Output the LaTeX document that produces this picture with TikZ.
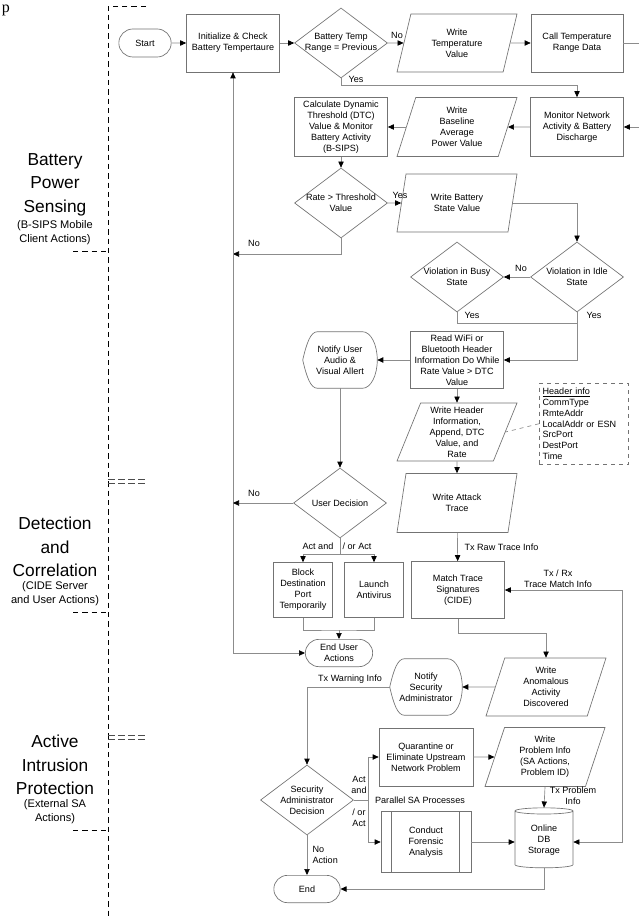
\documentclass[tikz,border=0pt]{standalone}
\usepackage{fontspec}
\setmainfont{Liberation Sans}
\newfontfamily\pserif{Liberation Serif}
\usetikzlibrary{shapes.geometric,shapes.misc,arrows.meta,positioning,calc}

% outline of the "display" shape round an invisible box
\newcommand\dispshape[1]{%
  \draw[shp] let \p1=(#1.west), \p2=(#1.north east), \p3=(#1.south east) in
    (\p1) .. controls (\x1+3pt,\y2-8pt) and (\x1+6pt,\y2) .. (\x1+11pt,\y2)
    -- (\x2-11pt,\y2) arc[start angle=90, end angle=-90, x radius=11pt, y radius={(\y2-\y3)/2}]
    -- (\x1+11pt,\y3) .. controls (\x1+6pt,\y3) and (\x1+3pt,\y3+8pt) .. (\p1) -- cycle;}

\begin{document}
\begin{tikzpicture}[x=0.75pt, y=-0.75pt,
    every node/.style={font=\fontsize{6.8}{8.2}\selectfont, align=center},
    shp/.style={draw=black!55, line width=0.5pt},
    proc/.style={shp, rectangle, fill=white, minimum width=69.75pt, minimum height=43.5pt, inner sep=1pt},
    term/.style={shp, rounded rectangle, fill=white, minimum width=52.5pt, minimum height=20.5pt, inner sep=1pt},
    dec/.style={shp, diamond, fill=white, aspect=1.33, minimum width=69.75pt, minimum height=52.5pt, inner sep=-3pt},
    iodata/.style={shp, trapezium, trapezium left angle=66, trapezium right angle=114, trapezium stretches body, fill=white, minimum width=90pt, minimum height=43.5pt, inner sep=1pt},
    dispbox/.style={minimum width=55.5pt, minimum height=42pt, inner sep=0pt},
    store/.style={shp, cylinder, shape border rotate=90, aspect=0.18, fill=white, minimum width=43.5pt, minimum height=45pt, inner sep=1pt},
    link/.style={draw=black!45, line width=0.5pt},
    arr/.style={link, -{Triangle[length=4.5pt, width=4pt, color=black]}},
    twoarr/.style={link, {Triangle[length=4.5pt, width=4pt, color=black]}-{Triangle[length=4.5pt, width=4pt, color=black]}},
    lane/.style={draw=black, line width=0.6pt, dash pattern=on 4pt off 3pt},
    lanemark/.style={draw=black!70, line width=0.5pt, dash pattern=on 5pt off 2.5pt},
    lanebig/.style={font=\fontsize{13}{17.5}\selectfont, inner sep=0pt},
    lanesmall/.style={font=\fontsize{8.3}{10.2}\selectfont, inner sep=0pt},
    lbl/.style={inner sep=1pt}
]
\useasboundingbox (0,0) rectangle (638,919);

% swim lanes
\node[font=\pserif\fontsize{12}{12}\selectfont, anchor=base, inner sep=0pt] (pfrag) at (6,13) {p};
\draw[lane] (146,6) -- (108,6) -- (108,925);
\draw[lane] (73,251) -- (108,251);
\draw[lane] (73,612) -- (108,612);
\draw[lane] (73,830) -- (108,830);
\draw[lanemark] (108,479) -- (145,479) (108,483) -- (145,483);
\draw[lanemark] (108,735) -- (145,735) (108,739) -- (145,739);
\node[lanesmall, anchor=south] (lane1sub) at (55,245) {(B-SIPS Mobile\\Client Actions)};
\node[lanebig, above=3.5pt of lane1sub] (lane1) {Battery\\Power\\Sensing};
\node[lanesmall, anchor=south] (lane2sub) at (55,606) {(CIDE Server\\and User Actions)};
\node[lanebig, above=3.5pt of lane2sub] (lane2) {Detection\\and\\Correlation};
\node[lanesmall, anchor=south] (lane3sub) at (55,824) {(External SA\\Actions)};
\node[lanebig, above=3.5pt of lane3sub] (lane3) {Active\\Intrusion\\Protection};

% battery power sensing
\node[term, minimum width=41.25pt, minimum height=21pt] (start) at (145,43) {Start};
\node[proc] (init) at (233,43) {Initialize \& Check\\Battery Tempertaure};
\node[dec] (tempok) at (341,43) {Battery Temp\\Range = Previous};
\node[iodata] (wtemp) at (457,43) {Write\\Temperature\\Value};
\node[proc, minimum width=69pt] (calltr) at (577,43) {Call Temperature\\Range Data};
\node[proc, minimum height=44.25pt] (monit) at (577,127) {Monitor Network\\Activity \& Battery\\Discharge};
\node[iodata, minimum height=44.25pt] (wbase) at (457,127) {Write\\Baseline\\Average\\Power Value};
\node[proc, minimum height=44.25pt] (calcdtc) at (341,127) {Calculate Dynamic\\Threshold (DTC)\\Value \& Monitor\\Battery Activity\\(B-SIPS)};
\node[dec] (rate) at (341,203) {Rate > Threshold\\Value};
\node[iodata] (wbatt) at (457,203) {Write Battery\\State Value};
\node[dec] (idle) at (577,277) {Violation in Idle\\State};
\node[dec] (busy) at (457,277) {Violation in Busy\\State};
\node[proc, minimum height=42.75pt] (readhdr) at (457,360) {Read WiFi or\\Bluetooth Header\\Information Do While\\Rate Value > DTC\\Value};
\node[dispbox] (notu) at (340,360) {Notify User\\Audio \&\\Visual Allert};
\dispshape{notu}

% detection and correlation
\node[iodata] (whdr) at (457,432) {Write Header\\Information,\\Append, DTC\\Value, and\\Rate};
\node[draw=black!55, dashed, line width=0.4pt, align=left, anchor=north west, text width=62pt, minimum height=60.75pt, inner sep=2.5pt] (hinfo) at (539,383)
  {\underline{Header info}\\CommType\\RmteAddr\\LocalAddr or ESN\\SrcPort\\DestPort\\Time};
\node[dec] (ud) at (340,503) {User Decision};
\node[proc, minimum width=44.25pt, minimum height=41.25pt] (blk) at (303,590) {Block\\Destination\\Port\\Temporarily};
\node[proc, minimum width=44.25pt, minimum height=41.25pt] (lav) at (374,590) {Launch\\Antivirus};
\node[term] (endu) at (339,653) {End User\\Actions};
\node[iodata, minimum height=44.25pt] (watk) at (457,503) {Write Attack\\Trace};
\node[proc, minimum height=42.75pt] (mts) at (458,590) {Match Trace\\Signatures\\(CIDE)};
\node[iodata] (wanom) at (546,687) {Write\\Anomalous\\Activity\\Discovered};
\node[dispbox, minimum width=54pt] (nsec) at (426,687) {Notify\\Security\\Administrator};
\dispshape{nsec}

% active intrusion protection
\node[dec] (sad) at (307,800) {Security\\Administrator\\Decision};
\node[proc, minimum width=70.5pt] (quar) at (426,757) {Quarantine or\\Eliminate Upstream\\Network Problem};
\node[iodata, minimum height=44.25pt] (wprob) at (545,757) {Write\\Problem Info\\(SA Actions,\\Problem ID)};
\node[proc, minimum width=67.5pt, minimum height=45.75pt] (fore) at (426,842) {Conduct\\Forensic\\Analysis};
\draw[shp] ($(fore.north west)+(11,0)$) -- ($(fore.south west)+(11,0)$)
           ($(fore.north east)+(-12,0)$) -- ($(fore.south east)+(-12,0)$);
\node[store] (db) at (544,840) {Online\\DB\\Storage};
\node[term, minimum width=51.75pt] (endn) at (307,889) {End};

% connectors
\coordinate (nor) at (233,254);
\coordinate (nou) at (233,503);
\coordinate (busb) at (233,653);
\coordinate (yj) at (577,323);
\coordinate (bj) at (339,630);
\coordinate (saj) at (368,800);
\coordinate (rx) at (622,842);

\draw[arr] (start) -- (init);
\draw[arr] (init) -- (tempok);
\draw[arr] (tempok) -- (wtemp);
\draw[arr] (wtemp) -- (calltr);
\draw[arr] (calltr.east) -- ++(20,0) |- (monit.east);
\draw[arr] (tempok.south) -- ++(0,7) -| (monit.north);
\draw[arr] (monit) -- (wbase);
\draw[arr] (wbase) -- (calcdtc);
\draw[arr] (calcdtc) -- (rate);
\draw[arr] (rate) -- (wbatt);
\draw[arr] (rate.south) |- (nor);
\draw[arr] (busb) -- (init.south);
\draw[arr] (busb) -- (endu.west);
\draw[arr] (wbatt.east) -| (idle.north);
\draw[arr] (idle) -- (busy);
\draw[link] (busy.south) |- (yj);
\draw[arr] (idle.south) |- (readhdr.east);
\draw[arr] (readhdr.west) -- (notu.east);
\draw[arr] (notu.south) -- (ud.north);
\draw[arr] (ud.west) -- (nou);
\draw[link] (ud.south) -- ++(0,16) coordinate (udj);
\draw[arr] (udj) -| (blk.north);
\draw[arr] (udj) -| (lav.north);
\draw[link] (blk.south) |- (bj) -| (lav.south);
\draw[arr] (bj) -- (endu.north);
\draw[arr] (readhdr) -- (whdr);
\draw[arr] (whdr) -- (watk);
\draw[arr] (watk) -- (mts);
\draw[link, dashed] (hinfo.west) -- (whdr.east);
\draw[arr] (mts.south) -- ++(0,14) -| (wanom.north);
\draw[arr] (wanom) -- (nsec.east);
\draw[arr] (nsec.west) -| (sad.north);
\draw[link] (sad.east) -- (saj);
\draw[arr] (saj) |- (quar.west);
\draw[arr] (saj) |- (fore.west);
\draw[arr] (quar) -- (wprob);
\draw[arr] (wprob.south) -- (db.north);
\draw[arr] (fore.east) -- (fore.east -| db.west);
\draw[twoarr] (rx -| db.east) -- (rx) |- (mts.east);
\draw[arr] (db.south) |- (endn.east);
\draw[arr] (sad.south) -- (endn.north);

% connector labels
\node[lbl] (nolbl1) at (397,35) {No};
\node[lbl] (yeslbl1) at (356,79) {Yes};
\node[lbl] (yeslbl2) at (400,195) {Yes};
\node[lbl] (nolbl2) at (254,243) {No};
\node[lbl] (nolbl3) at (521,268) {No};
\node[lbl] (yeslbl3) at (472,315) {Yes};
\node[lbl] (yeslbl4) at (594,315) {Yes};
\node[lbl] (nolbl4) at (254,493) {No};
\node[lbl] (actlbl1) at (318,546) {Act and};
\node[lbl] (actlbl2) at (357,546) {/ or Act};
\node[lbl, anchor=west] (rawlbl) at (463,547) {Tx Raw Trace Info};
\node[lbl] (rxlbl) at (558,579) {Tx / Rx\\Trace Match Info};
\node[lbl] (warnlbl) at (350,679) {Tx Warning Info};
\node[lbl] (actlbl3) at (359,785) {Act\\and};
\node[lbl] (actlbl4) at (359,818) {/ or\\Act};
\node[lbl] (paralbl) at (420,800) {Parallel SA Processes};
\node[lbl] (problbl) at (573,796) {Tx Problem\\Info};
\node[lbl, anchor=west, align=left] (nalbl) at (311,855) {No\\Action};
\end{tikzpicture}
\end{document}
